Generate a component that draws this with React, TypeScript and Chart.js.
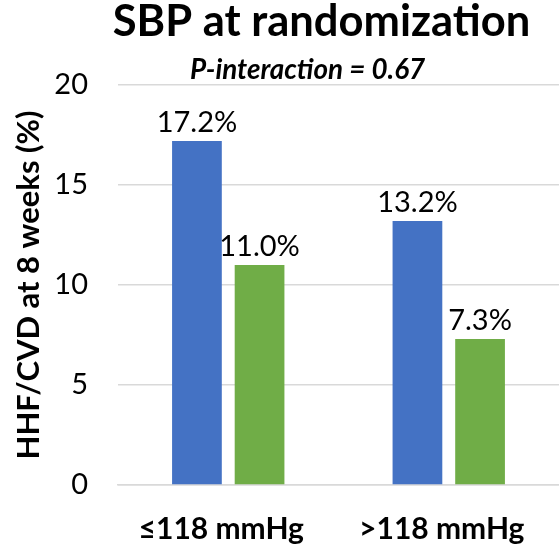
import React, { useEffect, useRef } from "react";
import { Chart, registerables } from "chart.js";

Chart.register(...registerables);

const categories = ["≤118 mmHg", ">118 mmHg"];
const seriesA = [17.2, 13.2];
const seriesB = [11.0, 7.3];
const yTicks = [0, 5, 10, 15, 20];
const titleText = "SBP at randomization";
const subtitleText = "P-interaction = 0.67";
const yAxisTitle = "HHF/CVD at 8 weeks (%)";

const FONT = "Lato, 'Open Sans', sans-serif";

const labelPlugin = {
  id: "barLabels",
  afterDatasetsDraw(chart: any) {
    const ctx = chart.ctx;
    ctx.save();
    ctx.font = `normal 29px ${FONT}`;
    ctx.fillStyle = "#000";
    ctx.textAlign = "center";
    ctx.textBaseline = "alphabetic";
    chart.data.datasets.forEach((ds: any, di: number) => {
      const meta = chart.getDatasetMeta(di);
      meta.data.forEach((bar: any, i: number) => {
        const v = ds.data[i];
        ctx.fillText(v.toFixed(1) + "%", bar.x, bar.y - 9);
      });
    });
    ctx.restore();
  },
};

const titlePlugin = {
  id: "customTitles",
  afterDraw(chart: any) {
    const ctx = chart.ctx;
    const a = chart.chartArea;
    ctx.save();
    ctx.fillStyle = "#000";
    ctx.textAlign = "center";
    ctx.textBaseline = "alphabetic";
    ctx.font = `bold 43.5px ${FONT}`;
    ctx.fillText(titleText, a.left + 203.5, 36);
    ctx.font = `italic bold 27.8px ${FONT}`;
    ctx.fillText(subtitleText, a.left + 189.5, 79);
    ctx.restore();
  },
};

export default function App() {
  const ref = useRef<HTMLCanvasElement>(null);
  useEffect(() => {
    document.body.style.margin = "0";
    const chart = new Chart(ref.current!, {
      type: "bar",
      data: {
        labels: categories,
        datasets: [
          {
            data: seriesA,
            backgroundColor: "#4472C4",
            barPercentage: 0.794,
            categoryPercentage: 0.568,
          },
          {
            data: seriesB,
            backgroundColor: "#70AD47",
            barPercentage: 0.794,
            categoryPercentage: 0.568,
          },
        ],
      },
      options: {
        animation: false,
        responsive: false,
        maintainAspectRatio: false,
        layout: { padding: { top: 85, right: -3, left: 10, bottom: 0 } },
        plugins: {
          legend: { display: false },
          title: { display: false },
          tooltip: { enabled: false },
        },
        scales: {
          x: {
            grid: { display: false, drawTicks: false },
            border: { display: true, color: "#d9d9d9", width: 1.5 },
            ticks: {
              color: "#000",
              font: { family: FONT, size: 30, weight: "bold" },
              padding: 26,
              labelOffset: -7,
            },
            afterFit(scale: any) {
              scale.height = 59;
            },
          },
          y: {
            min: 0,
            max: 20,
            afterBuildTicks(scale: any) {
              scale.ticks = yTicks.map((v) => ({ value: v }));
            },
            afterFit(scale: any) {
              scale.width = 108;
            },
            grid: { color: "#d9d9d9", lineWidth: 1.5, drawTicks: false },
            border: { display: false },
            ticks: {
              color: "#000",
              font: { family: FONT, size: 29 },
              padding: 30,
            },
            title: {
              display: true,
              text: yAxisTitle,
              color: "#000",
              font: { family: FONT, size: 31, weight: "bold" },
              padding: { top: 0, bottom: 0 },
            },
          },
        },
      },
      plugins: [labelPlugin, titlePlugin],
    });
    return () => chart.destroy();
  }, []);
  return (
    <div style={{ position: "fixed", left: 0, top: 0, width: 559, height: 544 }}>
      <canvas ref={ref} width={559} height={544} style={{ width: 559, height: 544 }} />
    </div>
  );
}
